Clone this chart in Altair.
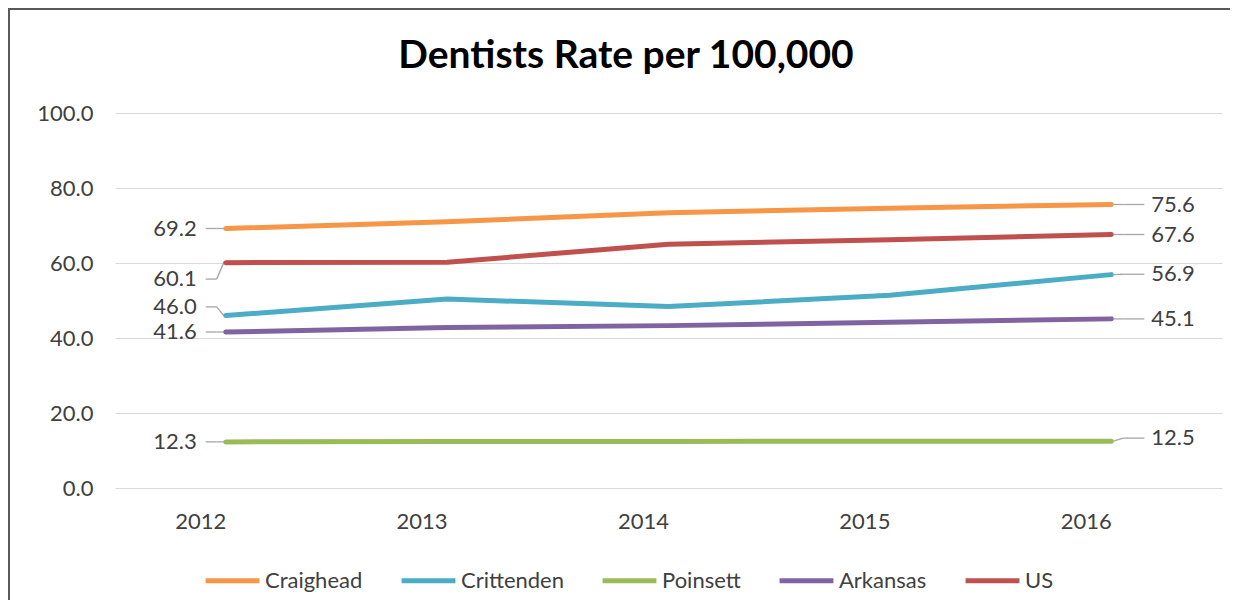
import altair as alt
import pandas as pd

years = ["2012", "2013", "2014", "2015", "2016"]
series = ["Craighead", "Crittenden", "Poinsett", "Arkansas", "US"]
colors = ["#F79646", "#4BACC6", "#9BBB59", "#8064A2", "#C0504D"]

craighead = [69.2, 71.0, 73.4, 74.6, 75.6]
crittenden = [46.0, 50.4, 48.4, 51.4, 56.9]
poinsett = [12.3, 12.4, 12.4, 12.5, 12.5]
arkansas = [41.6, 42.8, 43.3, 44.2, 45.1]
us = [60.1, 60.2, 65.0, 66.2, 67.6]

title_text = ["Dentists Rate per 100,000"]

# label placement (data units) for first / last point labels
start_label_y = [69.2, 46.0 + 2.3, 12.3, 41.6, 60.1 - 4.4]
end_label_y = [75.6, 57.0, 13.3, 45.1, 67.6]

vals = [craighead, crittenden, poinsett, arkansas, us]
rows = []
for s, v in zip(series, vals):
    for y, val in zip(years, v):
        rows.append({"Series": s, "Year": y, "Value": val})
df = pd.DataFrame(rows)

start_rows = []
end_rows = []
for s, v, sy, ey in zip(series, vals, start_label_y, end_label_y):
    start_rows.append({"Series": s, "Year": years[0], "Value": v[0], "LabelY": sy,
                       "Text": f"{v[0]:.1f}"})
    end_rows.append({"Series": s, "Year": years[-1], "Value": v[-1], "LabelY": ey,
                     "Text": f"{v[-1]:.1f}"})
start_df = pd.DataFrame(start_rows)
end_df = pd.DataFrame(end_rows)

FONT = "Lato"
TXT = "#404040"
LEAD = "#a6a6a6"

xscale = alt.Scale(type="point", padding=0.5, domain=years)
xenc = alt.X("Year:O", scale=xscale,
             axis=alt.Axis(title=None, labelAngle=0, domain=False, ticks=False,
                           labelPadding=33, labelFontSize=22, labelFont=FONT,
                           labelColor=TXT, grid=False))
yscale = alt.Scale(domain=[0, 100])

lines = alt.Chart(df).mark_line(strokeWidth=5, strokeCap="round", strokeJoin="round").encode(
    x=xenc,
    y=alt.Y("Value:Q", scale=yscale,
            axis=alt.Axis(title=None, values=[0, 20, 40, 60, 80, 100], format=".1f",
                          domain=False, ticks=False, labelPadding=22, labelFontSize=22,
                          labelFont=FONT, labelColor=TXT, gridColor="#d9d9d9",
                          gridWidth=1.2)),
    color=alt.Color("Series:N", sort=series,
                    scale=alt.Scale(domain=series, range=colors),
                    legend=alt.Legend(title=None, orient="none", direction="horizontal",
                                      legendX=88, legendY=438, symbolType="stroke",
                                      symbolStrokeWidth=5, symbolSize=2900,
                                      labelFontSize=22, labelFont=FONT, labelColor=TXT,
                                      labelOffset=3, columnPadding=28)),
)

def seg(data, x_off, x2_off, y_field, y2_field):
    return alt.Chart(data).mark_rule(color=LEAD, strokeWidth=1.3,
                                     xOffset=x_off, x2Offset=x2_off).encode(
        x=alt.X("Year:O", scale=xscale),
        x2="Year:O",
        y=alt.Y(f"{y_field}:Q", scale=yscale),
        y2=f"{y2_field}:Q",
    )

start_seg1 = seg(start_df, -20, -9, "LabelY", "LabelY")
start_seg2 = seg(start_df, -9, -2, "LabelY", "Value")
end_seg2 = seg(end_df, 2, 12, "Value", "LabelY")
end_seg1 = seg(end_df, 12, 33, "LabelY", "LabelY")

start_txt = alt.Chart(start_df).mark_text(align="right", baseline="middle", dx=-29,
                                          fontSize=22, font=FONT, color=TXT).encode(
    x=alt.X("Year:O", scale=xscale),
    y=alt.Y("LabelY:Q", scale=yscale),
    text="Text:N",
)
end_txt = alt.Chart(end_df).mark_text(align="left", baseline="middle", dx=40,
                                      fontSize=22, font=FONT, color=TXT).encode(
    x=alt.X("Year:O", scale=xscale),
    y=alt.Y("LabelY:Q", scale=yscale),
    text="Text:N",
)

title = alt.Chart(alt.Data(values=[{"t": title_text[0]}])).mark_text(
    align="center", baseline="middle", fontSize=39, font=FONT, fontWeight="bold",
    color="#000000").encode(x=alt.value(511), y=alt.value(-57), text="t:N")

border = alt.Chart(alt.Data(values=[{"a": 1}])).mark_rect(
    fill=None, stroke="#595959", strokeWidth=2).encode(
    x=alt.value(-106), x2=alt.value(1117), y=alt.value(-104), y2=alt.value(520))

chart = alt.layer(
    border, start_seg1, start_seg2, end_seg1, end_seg2, lines, start_txt, end_txt, title
).properties(
    width=1107,
    height=375,
    autosize=alt.AutoSizeParams(type="none"),
    padding={"left": 107, "top": 105, "right": 8, "bottom": 112},
).configure(background="white").configure_view(stroke=None, strokeWidth=0)

chart.save("out.html", embed_options={"renderer": "svg", "actions": False})
